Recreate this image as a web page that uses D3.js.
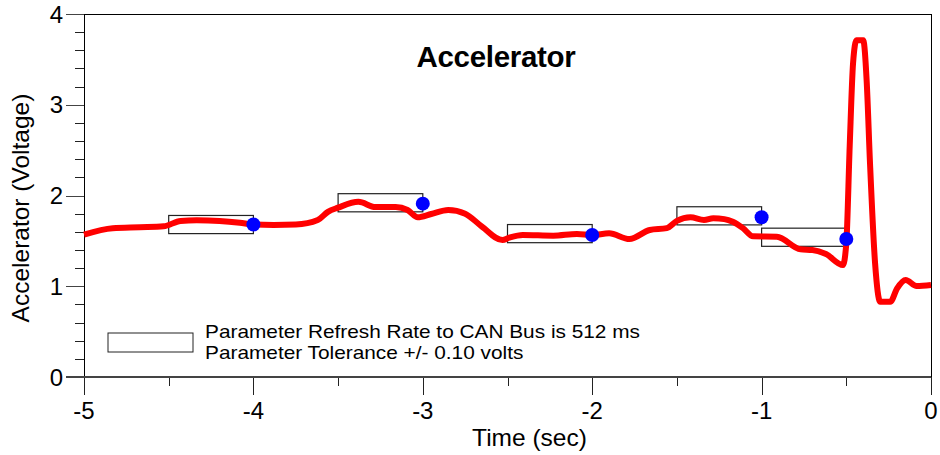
<!DOCTYPE html>
<html><head><meta charset="utf-8">
<script src="https://cdn.jsdelivr.net/npm/d3@7"></script>
<style>
html,body{margin:0;padding:0;background:#fff;}
text{font-family:"Liberation Sans",Arial,sans-serif;fill:#000;}
</style></head>
<body><svg id="c" width="940" height="455"></svg>
<script>
// ---- data ----
const timeSec = [-5.00,-4.83,-4.67,-4.53,-4.43,-4.335,-4.20,-4.08,-4.00,-3.88,-3.75,-3.62,-3.56,-3.50,-3.38,-3.28,-3.16,-3.09,-3.03,-2.95,-2.85,-2.75,-2.65,-2.53,-2.49,-2.41,-2.23,-2.09,-2.00,-1.90,-1.78,-1.66,-1.56,-1.50,-1.42,-1.34,-1.285,-1.22,-1.17,-1.11,-1.05,-0.91,-0.77,-0.70,-0.62,-0.52,-0.50,-0.48,-0.46,-0.44,-0.40,-0.38,-0.36,-0.33,-0.30,-0.24,-0.20,-0.15,-0.085,0];
const voltage = [1.57,1.64,1.65,1.66,1.72,1.727,1.72,1.70,1.68,1.675,1.68,1.73,1.82,1.866,1.93,1.873,1.873,1.84,1.76,1.796,1.84,1.80,1.656,1.51,1.535,1.565,1.557,1.576,1.565,1.583,1.52,1.62,1.64,1.72,1.76,1.73,1.75,1.74,1.71,1.64,1.55,1.546,1.407,1.40,1.355,1.234,1.47,2.54,3.46,3.71,3.71,3.27,2.355,1.25,0.83,0.83,0.977,1.07,1.003,1.014];
const sampleTimes = [-4,-3,-2,-1,-0.5];
const sampleValues = [1.68,1.91,1.565,1.76,1.52];
const boxCenters = [1.68,1.92,1.58,1.776,1.54];
const refreshSec = 0.5;
const toleranceV = 0.10;
const xTicks = [-5,-4,-3,-2,-1,0];
const yTicks = [0,1,2,3,4];
const title = "Accelerator";
const xTitle = "Time (sec)";
const yTitle = "Accelerator (Voltage)";
const legendLines = ["Parameter Refresh Rate to CAN Bus is 512 ms","Parameter Tolerance +/- 0.10 volts"];

// ---- chart ----
const svg = d3.select("#c");
const L=84, R=931, T=14, B=377;
const x = d3.scaleLinear().domain([-5,0]).range([L,R]);
const y = d3.scaleLinear().domain([0,4]).range([B,T]);

// frame top/right
svg.append("line").attr("x1",L).attr("x2",R).attr("y1",T+0.5).attr("y2",T+0.5).attr("stroke","#000").attr("stroke-width",1);
svg.append("line").attr("x1",R+0.5).attr("x2",R+0.5).attr("y1",T).attr("y2",B).attr("stroke","#000").attr("stroke-width",1);

// y axis
const yAxis = svg.append("g").attr("transform",`translate(${L},0)`);
yAxis.append("line").attr("x1",0.5).attr("x2",0.5).attr("y1",T).attr("y2",B).attr("stroke","#000").attr("stroke-width",1);
yAxis.selectAll("line.minor").data(d3.range(0,4.0001,0.2)).join("line").attr("class","minor")
  .attr("x1",d=>Math.abs(d-Math.round(d))<1e-6?-18:-9).attr("x2",0)
  .attr("y1",d=>Math.round(y(d))+0.5).attr("y2",d=>Math.round(y(d))+0.5)
  .attr("stroke",d=>Math.abs(d-Math.round(d))<1e-6?"#444":"#222").attr("stroke-width",1);
yAxis.selectAll("text").data(yTicks).join("text")
  .attr("x",-21).attr("y",d=>y(d)).attr("dy","0.36em").attr("text-anchor","end")
  .attr("font-size",24).text(d=>d);

// x axis
const xAxis = svg.append("g").attr("transform",`translate(0,${B})`);
xAxis.selectAll("line.t").data(d3.range(-5,0.0001,0.5)).join("line").attr("class","t")
  .attr("x1",d=>Math.round(x(d))+0.5).attr("x2",d=>Math.round(x(d))+0.5)
  .attr("y1",0).attr("y2",d=>Number.isInteger(d)?18:9).attr("stroke","#222").attr("stroke-width",1);
xAxis.append("line").attr("x1",L-18).attr("x2",R).attr("y1",0).attr("y2",0).attr("stroke","#444").attr("stroke-width",2);
xAxis.selectAll("text").data(xTicks).join("text")
  .attr("x",d=>x(d)).attr("y",42).attr("text-anchor","middle").attr("font-size",24).text(d=>d);

// axis titles
svg.append("text").attr("x",(L+R)/2+22).attr("y",446).attr("text-anchor","middle").attr("font-size",24.5).text(xTitle);
svg.append("text").attr("transform",`translate(29,208) rotate(-90)`).attr("text-anchor","middle").attr("font-size",24.5).text(yTitle);

// title
svg.append("text").attr("x",496).attr("y",67).attr("text-anchor","middle").attr("font-size",29.5).attr("font-weight","bold").attr("letter-spacing","-0.3").text(title);

// tolerance boxes
svg.selectAll("rect.box").data(sampleTimes).join("rect").attr("class","box")
  .attr("x",d=>x(d-refreshSec)).attr("width",d=>x(d)-x(d-refreshSec))
  .attr("y",(d,i)=>y(boxCenters[i]+toleranceV)).attr("height",(d,i)=>y(boxCenters[i]-toleranceV)-y(boxCenters[i]+toleranceV))
  .attr("fill","none").attr("stroke","#222").attr("stroke-width",1.2);

// signal line
const line = d3.line().x((d,i)=>x(timeSec[i])).y((d,i)=>y(voltage[i])).curve(d3.curveMonotoneX);
svg.append("path").datum(voltage).attr("d",line).attr("fill","none").attr("stroke","#ff0000").attr("stroke-width",6).attr("stroke-linejoin","round");

// sample dots
svg.selectAll("circle").data(sampleTimes).join("circle")
  .attr("cx",d=>x(d)).attr("cy",(d,i)=>y(sampleValues[i])).attr("r",7).attr("fill","#0000ff");

// legend
svg.append("rect").attr("x",108).attr("y",333).attr("width",85).attr("height",19).attr("fill","none").attr("stroke","#222").attr("stroke-width",1);
svg.selectAll("text.leg").data(legendLines).join("text").attr("class","leg")
  .attr("transform",(d,i)=>`translate(205,${338+i*20.5}) scale(1.157,1)`)
  .attr("font-size",18).text(d=>d);
</script></body></html>
